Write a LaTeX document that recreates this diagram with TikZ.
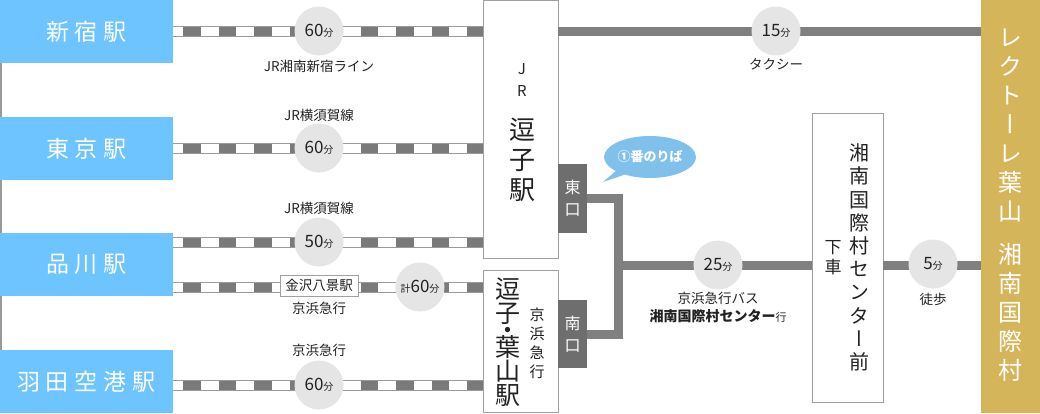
\documentclass[tikz,border=0pt]{standalone}
\usepackage{fontspec}
\setmainfont{Noto Sans CJK JP}
\newfontfamily\vjp[RawFeature=+vert]{Noto Sans CJK JP}
\usetikzlibrary{shapes.callouts}
\definecolor{stblue}{HTML}{6EC4FE}
\definecolor{goldbox}{HTML}{D4B55A}
\definecolor{railgray}{HTML}{9A9A9A}
\definecolor{raildark}{HTML}{7A7A7A}
\definecolor{linegray}{HTML}{808080}
\definecolor{darkbox}{HTML}{6E6E6E}
\definecolor{circgray}{HTML}{E5E5E5}
\definecolor{boxborder}{HTML}{A0A0A0}
\definecolor{bubblue}{HTML}{80C1EC}
\definecolor{txt}{HTML}{222222}
\newcommand\fsz[2]{\fontsize{#1}{#2}\selectfont\lineskiplimit=-100pt\relax}
\newcommand\tmin[1]{{\fsz{17}{17}#1}{\fsz{10}{10}分}}
\begin{document}
\begin{tikzpicture}[x=1pt,y=-1pt,
  every node/.style={inner sep=0pt, outer sep=0pt, text=txt},
  station/.style={fill=stblue, minimum width=173pt, minimum height=63pt, text=white, font=\fsz{23}{23}},
  framebox/.style={draw=boxborder, line width=1pt, fill=white},
  rail/.style={draw=railgray, line width=11pt,
    postaction={draw=raildark, line width=9pt},
    postaction={draw=white, line width=9pt, dash pattern=on 17.75pt off 17.75pt, dash phase=7.75pt}},
  busline/.style={draw=linegray, line width=9pt},
  tcircle/.style={circle, fill=circgray, minimum size=49pt, font=\fsz{17}{17}},
  lbl/.style={font=\fsz{13.5}{15}},
  gate/.style={fill=darkbox, minimum width=29pt, text=white, font=\fsz{16}{22}, align=center},
  vtext/.style={align=center}
]
\useasboundingbox (0,0) rectangle (1040,413);
\coordinate (edgetop) at (0.75,0);
\coordinate (edgebot) at (0.75,413);
\draw[railgray, line width=1.5pt] (edgetop) -- (edgebot);

% station boxes
\node[station] (shinjuku) at (86.5,31.5) {新\hspace{6pt}宿\hspace{6pt}駅};
\node[station] (tokyo) at (86.5,148.5) {東\hspace{6pt}京\hspace{6pt}駅};
\node[station] (shinagawa) at (86.5,264.5) {品\hspace{6pt}川\hspace{6pt}駅};
\node[station] (haneda) at (86.5,381.5) {羽\hspace{6pt}田\hspace{6pt}空\hspace{6pt}港\hspace{6pt}駅};

% main boxes
\node[framebox, minimum width=75pt, minimum height=258pt] (jr) at (520.5,129) {};
\node[framebox, minimum width=75pt, minimum height=142pt] (zh) at (520.5,341) {};
\node[framebox, minimum width=71pt, minimum height=289pt] (shonan) at (847.5,257.5) {};
\node[fill=goldbox, minimum width=59pt, minimum height=413pt] (gold) at (1010.5,206.5) {};
\node[gate, minimum height=69pt] (higashi) at (572.5,198.5) {東\\口};
\node[gate, minimum height=68pt] (minami) at (572.5,334) {南\\口};

% texts in boxes
\node[vtext, font=\fsz{15}{22}] (jrlbl) at (522,80) {J\\R};
\node[vtext, font=\fsz{26}{30}] (zushilbl) at (522,160) {逗\\子\\駅};
\node[vtext, font=\fsz{25}{24}] (zhlbl) at (508,342) {逗\\子\\[-7pt]・\\[-7pt]葉\\山\\駅};
\node[vtext, font=\fsz{15}{19}] (kqlbl) at (537,343.5) {京\\浜\\急\\行};
\node[vtext, font=\vjp\fsz{20}{23.2}] (shonanlbl) at (859,257.5) {湘\\南\\国\\際\\村\\セ\\ン\\タ\\ー\\前};
\node[vtext, font=\fsz{17}{20}] (gesha) at (833,258) {下\\車};
\node[vtext, text=white, font=\vjp\fsz{24}{29}] (goldlbl) at (1010,205) {レ\\ク\\ト\\ー\\レ\\葉\\山\\[14pt]湘\\南\\国\\際\\村};

% rails
\draw[rail] (shinjuku.east) -- (shinjuku.east -| jr.west);
\draw[rail] (tokyo.east) -- (tokyo.east -| jr.west);
\coordinate (s1) at ([yshift=22.5pt]shinagawa.east);
\draw[rail] (s1) -- (s1 -| jr.west);
\coordinate (s2) at ([yshift=-22.5pt]shinagawa.east);
\draw[rail] (s2) -- (s2 -| zh.west);
\coordinate (h1) at ([yshift=-3.5pt]haneda.east);
\draw[rail] (h1) -- (h1 -| zh.west);

% taxi and bus lines
\draw[busline] (shinjuku.east -| jr.east) -- (shinjuku.east -| gold.west);
\coordinate (junc) at (618,265);
\draw[busline] (higashi.east) -| (junc) |- (minami.east);
\draw[busline] (junc) -- (junc -| shonan.west);
\draw[busline] (junc -| shonan.east) -- (junc -| gold.west);

% time circles
\node[tcircle] (c1) at (319,31) {\tmin{60}};
\node[tcircle] (c2) at (319,148) {\tmin{60}};
\node[tcircle] (c3) at (319,242) {\tmin{50}};
\node[tcircle] (c4) at (420,287) {{\fsz{10}{10}計}\tmin{60}};
\node[tcircle] (c5) at (319,385) {\tmin{60}};
\node[tcircle] (c6) at (776,31) {\tmin{15}};
\node[tcircle] (c7) at (718,265) {\tmin{25}};
\node[tcircle] (c8) at (933,264) {\tmin{5}};
\node[framebox, minimum width=78pt, minimum height=21pt, font=\fsz{13.5}{15}] (kanazawa) at (319,285.5) {金沢八景駅};

% labels
\node[lbl] (l1) at (319,66) {JR湘南新宿ライン};
\node[lbl] (l2) at (319,115) {JR横須賀線};
\node[lbl] (l3) at (319,208) {JR横須賀線};
\node[lbl] (l4) at (319,308) {京浜急行};
\node[lbl] (l5) at (319,350) {京浜急行};
\node[lbl] (l6) at (776,64) {タクシー};
\node[lbl] (l7) at (718,298) {京浜急行バス};
\node[font=\fsz{14}{15}] (l8) at (718,316) {{\bfseries 湘南国際村センター}{\fsz{11}{11}行}};
\node[lbl] (l9) at (933,299) {徒歩};

% callout
\node[ellipse callout, fill=bubblue, minimum width=90pt, minimum height=42pt,
  callout absolute pointer={(603,182)}, text=white, font=\fsz{13}{15}\bfseries] (bubble) at (650,157) {①番のりば};
\end{tikzpicture}
\end{document}
